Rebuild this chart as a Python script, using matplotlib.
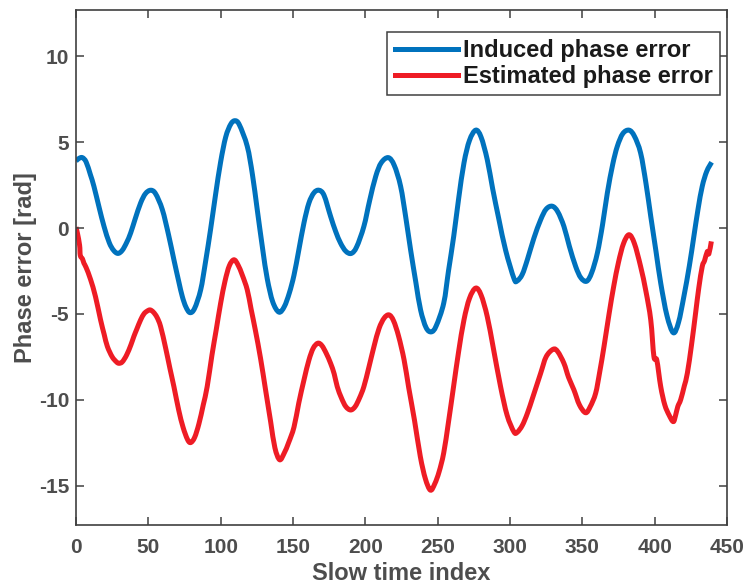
import numpy as np
import matplotlib
matplotlib.use("Agg")
import matplotlib.pyplot as plt
from matplotlib.path import Path
from matplotlib.patches import PathPatch
from matplotlib.lines import Line2D

# Induced phase error (slow-time index, rad)
induced_x = [0, 2, 4.4, 7, 10, 12.4, 16, 19.4, 23, 26, 29, 32, 35, 37.8, 41, 44.7, 48, 51.6, 55,
             59.7, 64, 67.7, 71, 73.5, 76, 78.8, 82, 86.2, 89.5, 93.1, 96.5, 100, 103.5, 107, 110,
             113, 118.4, 122, 125.3, 129, 132.2, 136, 140.3, 144, 147.5, 150.7, 154, 157.6, 161,
             164.5, 168, 171.5, 176, 179.5, 182.9, 186.5, 190.3, 194, 199, 203, 207.2, 211, 215.9,
             220, 224.4, 228, 231.3, 235, 238.2, 242, 245.6, 249, 254.2, 257.5, 261.1, 264.5, 268.2,
             272, 276.3, 280, 284.3, 288, 292.4, 297, 302.8, 305, 308.5, 312, 316.5, 321.2, 325,
             329.2, 333, 337.3, 341, 345.4, 349, 353, 356.5, 360.4, 364, 367.3, 371, 374.2, 378,
             382.3, 386, 390.3, 394, 397.3, 401, 404.2, 408.5, 412.9, 416.5, 420.2, 424, 427.1, 430,
             432.9, 436, 439.4]
induced_y = [3.9, 4.05, 4.1, 3.85, 3.1, 2.43, 1.2, 0.09, -0.85, -1.3, -1.48, -1.3, -0.85, -0.29,
             0.55, 1.46, 2.0, 2.2, 2.0, 1.07, -0.4, -1.85, -3.1, -3.99, -4.6, -4.93, -4.68, -3.6,
             -2.0, -0.05, 1.95, 3.85, 5.3, 6.05, 6.25, 6.0, 4.76, 3.1, 1.07, -1.2, -2.95, -4.3,
             -4.9, -4.58, -3.78, -2.75, -1.3, 0.3, 1.45, 2.05, 2.2, 1.9, 0.68, -0.2, -0.88, -1.35,
             -1.48, -1.1, 0.09, 1.6, 3.01, 3.8, 4.1, 3.65, 2.43, 0.6, -1.27, -3.2, -4.77, -5.8,
             -6.05, -5.7, -4.38, -2.5, -0.49, 1.7, 3.79, 5.1, 5.7, 5.3, 3.98, 2.3, 0.48, -1.3,
             -2.95, -3.08, -2.7, -1.85, -0.6, 0.48, 1.1, 1.27, 0.95, 0.09, -1.05, -2.24, -2.9,
             -3.1, -2.6, -1.46, 0.2, 2.04, 3.7, 4.76, 5.5, 5.7, 5.35, 4.37, 2.6, 0.68, -1.4,
             -3.21, -5.1, -6.1, -5.5, -3.99, -2.2, -0.49, 1.1, 2.43, 3.3, 3.83]

# Estimated phase error (slow-time index, rad)
estimated_x = [0, 1, 2.5, 3, 4.5, 5.5, 7, 10.1, 13.5, 17, 19.5, 21.7, 25, 28, 29.7, 32, 35, 38, 40,
               42, 44.7, 47, 49, 51.2, 53.5, 56, 58.5, 62, 65, 67.7, 71, 74, 77, 79.2, 82, 85, 88,
               90.7, 94, 97, 100, 103, 106, 109.2, 112, 115, 118.4, 121, 124, 127.6, 131, 134.6,
               137.5, 140.8, 144, 147, 150.7, 154, 157.6, 161, 164, 167.2, 170, 173, 176, 178.5,
               180.6, 183.5, 186.5, 189.9, 193, 196, 199, 202.5, 206, 209.5, 213, 216.4, 219.5,
               223, 226.8, 230, 234, 238, 241.5, 245, 248, 251, 254.2, 257.5, 261, 264.5, 268.2,
               272, 276.3, 280, 284.3, 288.5, 293.5, 298, 302.7, 305, 308.5, 312, 316, 321.2, 325,
               329.9, 333, 337.3, 340.5, 344.2, 348, 352.3, 355.5, 359.2, 362, 365, 368.5, 371.7,
               375, 378.5, 382.3, 386, 390.3, 394, 397.3, 399.5, 401.5, 404.2, 407, 410, 412.9,
               414.5, 416, 418, 420.5, 422.6, 425.5, 428.3, 430.5, 432.9, 434.5, 436.4, 437.5,
               439.2]
estimated_y = [0.05, -0.3, -1.0, -1.6, -1.8, -2.05, -2.3, -3.0, -4.0, -5.35, -6.2, -6.9, -7.5,
               -7.8, -7.88, -7.8, -7.4, -6.8, -6.32, -5.9, -5.35, -5.0, -4.85, -4.77, -4.9, -5.2,
               -5.74, -7.0, -8.2, -9.24, -10.6, -11.6, -12.3, -12.5, -12.2, -11.4, -10.3, -9.24,
               -7.4, -5.9, -4.38, -3.1, -2.2, -1.85, -2.15, -2.75, -3.6, -4.7, -5.95, -7.6, -9.4,
               -11.3, -12.8, -13.5, -13.1, -12.5, -11.6, -10.2, -8.85, -7.7, -7.0, -6.71, -6.85,
               -7.3, -7.88, -8.5, -9.24, -9.9, -10.4, -10.6, -10.4, -9.9, -9.24, -8.1, -6.9, -5.85,
               -5.25, -5.06, -5.4, -6.3, -7.68, -9.3, -11.2, -13.3, -14.6, -15.27, -14.9, -14.2,
               -13.1, -11.3, -9.24, -7.2, -5.35, -4.1, -3.5, -3.9, -5.16, -7.0, -9.24, -10.9,
               -11.87, -11.9, -11.5, -10.8, -9.8, -8.46, -7.5, -7.06, -7.2, -7.88, -8.7, -9.43,
               -10.3, -10.76, -10.4, -9.63, -8.4, -6.9, -5.0, -3.4, -2.0, -0.9, -0.39, -0.9, -2.24,
               -3.7, -5.35, -7.49, -7.7, -9.24, -10.3, -10.9, -11.28, -10.9, -10.4, -10.0, -9.2,
               -8.46, -6.8, -4.96, -3.5, -2.24, -1.9, -1.37, -1.5, -0.78]

series_labels = ["Induced phase error", "Estimated phase error"]
series_colors = ["#0072BD", "#EE1C25"]
x_ticks = [0, 50, 100, 150, 200, 250, 300, 350, 400, 450]
y_ticks = [-15, -10, -5, 0, 5, 10]

plt.rcParams["font.family"] = ["Liberation Sans", "DejaVu Sans"]
plt.rcParams["font.weight"] = "bold"
plt.rcParams["axes.unicode_minus"] = False

LINE_W = 3.6


def curve_through(xs, ys):
    """Cubic Bezier path (Catmull-Rom tangents) passing through every sample."""
    p = np.column_stack([xs, ys]).astype(float)
    n = len(p)
    verts = [p[0]]
    codes = [Path.MOVETO]
    for i in range(n - 1):
        p0 = p[i - 1] if i > 0 else p[i]
        p1, p2 = p[i], p[i + 1]
        p3 = p[i + 2] if i + 2 < n else p[i + 1]
        verts += [p1 + (p2 - p0) / 6.0, p2 - (p3 - p1) / 6.0, p2]
        codes += [Path.CURVE4] * 3
    return Path(np.array(verts), codes)


fig = plt.figure(figsize=(7.47, 5.87), dpi=100)
ax = fig.add_axes([0.1017, 0.1056, 0.8715, 0.8774])

for xs, ys, c in [(induced_x, induced_y, series_colors[0]),
                  (estimated_x, estimated_y, series_colors[1])]:
    ax.add_patch(PathPatch(curve_through(xs, ys), facecolor="none", edgecolor=c,
                           lw=LINE_W, joinstyle="round", capstyle="butt"))

ax.set_xlim(0, 450)
ax.set_ylim(-17.3, 12.7)
ax.set_xticks(x_ticks)
ax.set_yticks(y_ticks)

axis_grey = "#404040"
label_grey = "#4D4D4D"
for s in ax.spines.values():
    s.set_color(axis_grey)
    s.set_linewidth(1.2)
ax.tick_params(direction="in", length=6, width=1.1, color=axis_grey,
               top=True, right=True, labelsize=15, labelcolor=label_grey)
ax.tick_params(axis="x", pad=9)
ax.tick_params(axis="y", pad=5)
for lab in ax.get_xticklabels() + ax.get_yticklabels():
    lab.set_fontweight("bold")

ax.set_xlabel("Slow time index", fontsize=17, fontweight="bold", color=label_grey, labelpad=4)
ax.set_ylabel("Phase error [rad]", fontsize=17, fontweight="bold", color=label_grey, labelpad=1)

handles = [Line2D([], [], color=c, lw=LINE_W) for c in series_colors]
leg = ax.legend(handles, series_labels, loc="upper right", bbox_to_anchor=(0.9892, 0.9573),
                borderaxespad=0, fancybox=False, framealpha=1, edgecolor=axis_grey,
                prop={"size": 17, "weight": "bold"}, handlelength=2.7,
                handletextpad=0.2, borderpad=0.3, labelspacing=0.12)
leg.get_frame().set_linewidth(1.1)
for t in leg.get_texts():
    t.set_color("#1A1A1A")

fig.savefig("out.png", dpi=100)
